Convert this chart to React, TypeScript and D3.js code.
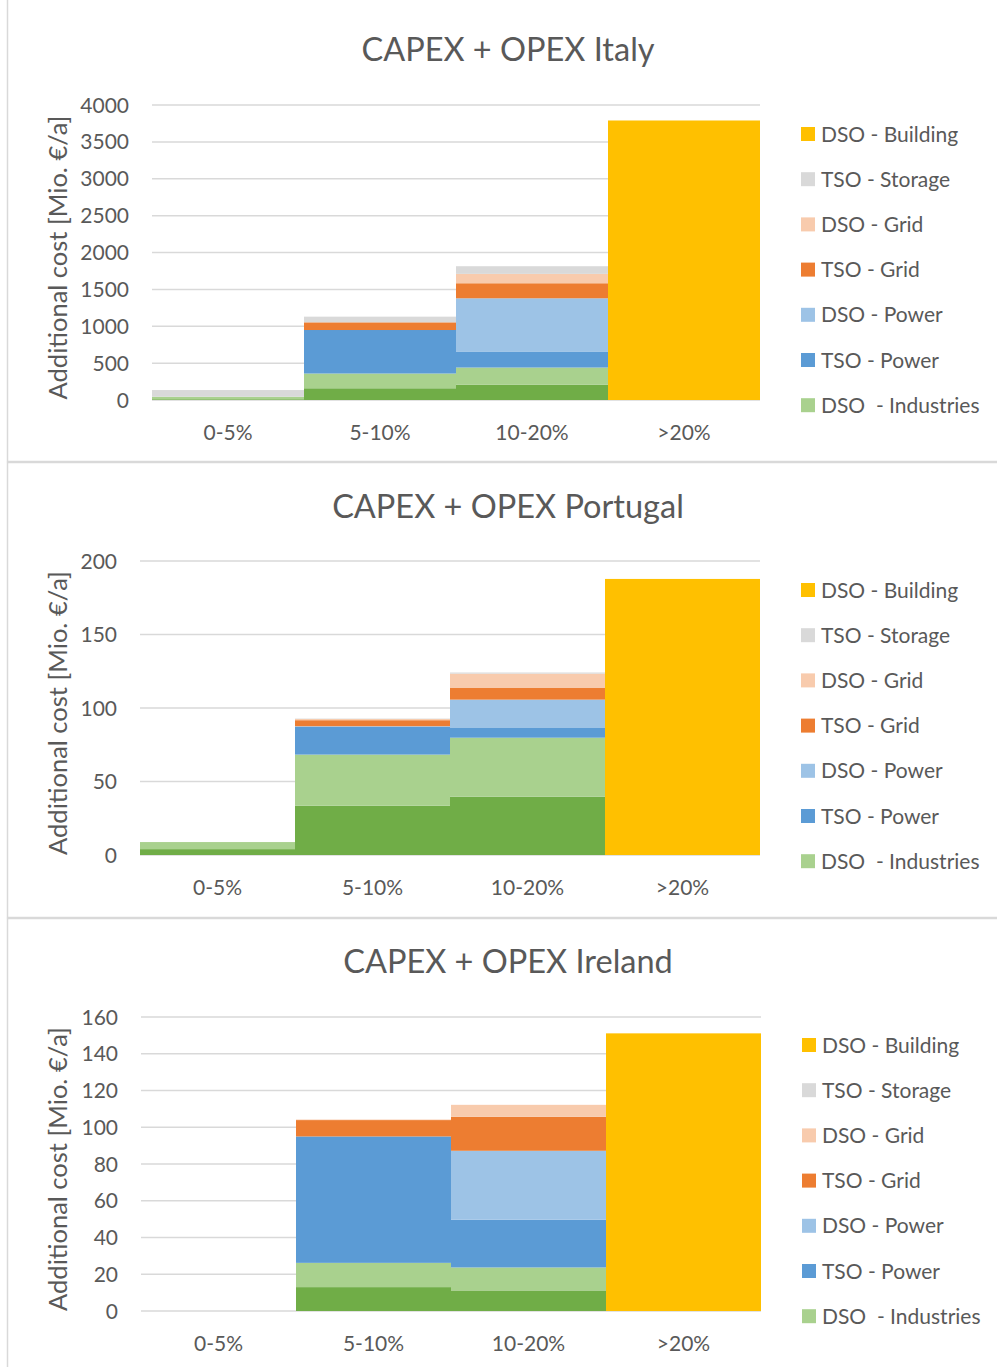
import React, { useEffect, useRef } from "react";
import * as d3 from "d3";

const categories = ["0-5%", "5-10%", "10-20%", ">20%"];

// stack order, bottom to top
const seriesNames = [
  "TSO - Industries",
  "DSO  - Industries",
  "TSO - Power",
  "DSO - Power",
  "TSO - Grid",
  "DSO - Grid",
  "TSO - Storage",
  "DSO - Building",
];
const seriesColors = ["#70AD47", "#A9D18E", "#5B9BD5", "#9DC3E6", "#ED7D31", "#F8CBAD", "#D9D9D9", "#FFC000"];

// legend entries as shown (top to bottom)
const legendNames = [
  "DSO - Building",
  "TSO - Storage",
  "DSO - Grid",
  "TSO - Grid",
  "DSO - Power",
  "TSO - Power",
  "DSO  - Industries",
];

// Italy [Mio. €/a]
const italyTsoIndustries = [10, 159, 209, 0];
const italyDsoIndustries = [35, 200, 231, 0];
const italyTsoPower = [0, 590, 218, 0];
const italyDsoPower = [0, 0, 721, 0];
const italyTsoGrid = [0, 104, 204, 0];
const italyDsoGrid = [0, 0, 127, 0];
const italyTsoStorage = [90, 77, 104, 0];
const italyDsoBuilding = [0, 0, 0, 3790];

// Portugal
const portugalTsoIndustries = [4, 33.6, 39.7, 0];
const portugalDsoIndustries = [4.8, 34.7, 40.1, 0];
const portugalTsoPower = [0, 19, 6.6, 0];
const portugalDsoPower = [0, 0.3, 19.3, 0];
const portugalTsoGrid = [0, 4.1, 7.9, 0];
const portugalDsoGrid = [0, 0.8, 9.75, 0];
const portugalTsoStorage = [0, 0.3, 0.8, 0];
const portugalDsoBuilding = [0, 0, 0, 187.8];

// Ireland
const irelandTsoIndustries = [0, 13, 11.2, 0];
const irelandDsoIndustries = [0, 13.2, 12.5, 0];
const irelandTsoPower = [0, 68.8, 26, 0];
const irelandDsoPower = [0, 0, 37.5, 0];
const irelandTsoGrid = [0, 8.9, 18.5, 0];
const irelandDsoGrid = [0, 0.3, 6.5, 0];
const irelandTsoStorage = [0, 0, 0, 0];
const irelandDsoBuilding = [0, 0, 0, 151.1];

const titles = ["CAPEX + OPEX Italy", "CAPEX + OPEX Portugal", "CAPEX + OPEX Ireland"];
const yMax = [4000, 200, 160];
const yStep = [500, 50, 20];

const countryValues = [
  [italyTsoIndustries, italyDsoIndustries, italyTsoPower, italyDsoPower, italyTsoGrid, italyDsoGrid, italyTsoStorage, italyDsoBuilding],
  [portugalTsoIndustries, portugalDsoIndustries, portugalTsoPower, portugalDsoPower, portugalTsoGrid, portugalDsoGrid, portugalTsoStorage, portugalDsoBuilding],
  [irelandTsoIndustries, irelandDsoIndustries, irelandTsoPower, irelandDsoPower, irelandTsoGrid, irelandDsoGrid, irelandTsoStorage, irelandDsoBuilding],
];

// pixel layout of each of the three panels
const layouts = [
  { frameTop: -5, frameBottom: 461.5, x0: 152, x1: 760, yTop: 105, yBot: 400, titleY: 61, legendX: 801, legendY: 134 },
  { frameTop: 462.5, frameBottom: 917.5, x0: 140, x1: 760, yTop: 561, yBot: 855, titleY: 518, legendX: 801, legendY: 590 },
  { frameTop: 918.5, frameBottom: 1372, x0: 141, x1: 761, yTop: 1017, yBot: 1311, titleY: 973, legendX: 802, legendY: 1045 },
];

const FONT = "Lato, 'Open Sans', sans-serif";
const TEXT = "#595959";

export default function App() {
  const ref = useRef<SVGSVGElement>(null);

  useEffect(() => {
    const svg = d3.select(ref.current);
    svg.selectAll("*").remove();

    layouts.forEach((L, p) => {
      const g = svg.append("g").attr("class", "panel_" + p);

      // panel frame
      g.append("rect")
        .attr("x", 7.5)
        .attr("y", L.frameTop)
        .attr("width", 1000)
        .attr("height", L.frameBottom - L.frameTop)
        .attr("fill", "none")
        .attr("stroke", "#d9d9d9")
        .attr("stroke-width", 1.5);

      const rows = categories.map((c, i) => {
        const row: any = { category: c };
        seriesNames.forEach((s, k) => (row[s] = countryValues[p][k][i]));
        return row;
      });

      const x = d3.scaleBand().domain(categories).range([L.x0, L.x1]).padding(0);
      const y = d3.scaleLinear().domain([0, yMax[p]]).range([L.yBot, L.yTop]);
      const ticks = d3.range(0, yMax[p] + yStep[p] / 2, yStep[p]);

      // gridlines
      g.selectAll(".grid")
        .data(ticks)
        .join("line")
        .attr("class", "grid")
        .attr("x1", L.x0)
        .attr("x2", L.x1)
        .attr("y1", (d) => y(d))
        .attr("y2", (d) => y(d))
        .attr("stroke", "#d9d9d9")
        .attr("stroke-width", 1.5);

      // tick labels
      g.selectAll(".ytick")
        .data(ticks)
        .join("text")
        .attr("class", "ytick")
        .attr("x", L.x0 - 23)
        .attr("y", (d) => y(d))
        .attr("dy", "0.36em")
        .attr("text-anchor", "end")
        .style("font-family", FONT)
        .style("font-size", "21px")
        .style("fill", TEXT)
        .text((d) => d);

      // stacked bars
      const stacked = d3.stack<any>().keys(seriesNames)(rows);
      g.selectAll(".layer")
        .data(stacked)
        .join("g")
        .attr("class", "layer")
        .attr("fill", (d, k) => seriesColors[k])
        .selectAll("rect")
        .data((d) => d)
        .join("rect")
        .attr("x", (d) => x(d.data.category) as number)
        .attr("width", x.bandwidth())
        .attr("y", (d) => y(d[1]))
        .attr("height", (d) => y(d[0]) - y(d[1]));

      // category labels
      g.selectAll(".xlab")
        .data(categories)
        .join("text")
        .attr("class", "xlab")
        .attr("x", (d) => (x(d) as number) + x.bandwidth() / 2)
        .attr("y", L.yBot + 40)
        .attr("text-anchor", "middle")
        .style("font-family", FONT)
        .style("font-size", "21px")
        .style("fill", TEXT)
        .text((d) => d);

      // axis title
      g.append("text")
        .attr("transform", `translate(58,${(L.yTop + L.yBot) / 2 + 5}) rotate(-90)`)
        .attr("dy", "0.35em")
        .attr("text-anchor", "middle")
        .style("font-family", FONT)
        .style("font-size", "25.5px")
        .style("fill", TEXT)
        .text("Additional cost [Mio. €/a]");

      // title
      g.append("text")
        .attr("x", 508)
        .attr("y", L.titleY)
        .attr("text-anchor", "middle")
        .style("font-family", FONT)
        .style("font-size", "32.5px")
        .style("fill", TEXT)
        .text(titles[p]);

      // legend
      const leg = g
        .selectAll(".leg")
        .data(legendNames)
        .join("g")
        .attr("class", "leg")
        .attr("transform", (d, i) => `translate(${L.legendX},${L.legendY + i * 45.2})`);
      leg.append("rect")
        .attr("x", 0)
        .attr("y", -7)
        .attr("width", 14)
        .attr("height", 14)
        .attr("fill", (d) => seriesColors[seriesNames.indexOf(d)]);
      leg.append("text")
        .attr("x", 20)
        .attr("dy", "0.36em")
        .style("font-family", FONT)
        .style("font-size", "21px")
        .style("white-space", "pre")
        .style("fill", TEXT)
        .text((d) => d);
    });
  }, []);

  return (
    <div style={{ position: "absolute", left: 0, top: 0 }}>
      <svg ref={ref} width={997} height={1367} style={{ display: "block", background: "#fff" }} />
    </div>
  );
}
